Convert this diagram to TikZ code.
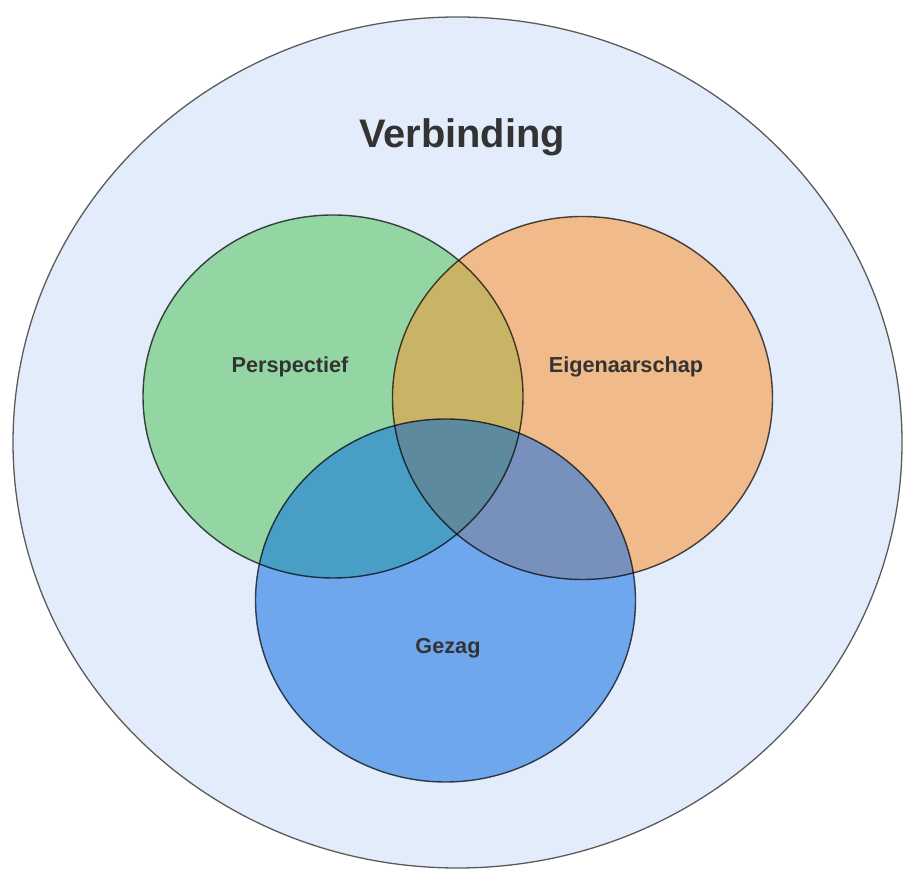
\documentclass[tikz,border=0pt]{standalone}
\usepackage{fontspec}
\setmainfont{Liberation Sans}
\usetikzlibrary{calc}
\definecolor{bg}{HTML}{E3ECFA}
\definecolor{rim}{HTML}{5A5A5A}
\definecolor{txt}{HTML}{333333}
\definecolor{groen}{HTML}{93D5A3}
\definecolor{oranje}{HTML}{F0BA8A}
\definecolor{blauw}{HTML}{6EA7EE}
\definecolor{groenoranje}{HTML}{C9B466}
\definecolor{groenblauw}{HTML}{489EC4}
\definecolor{oranjeblauw}{HTML}{7891BC}
\definecolor{allemaal}{HTML}{5E8AA0}
\newcommand{\lobe}[1]{(#1) ellipse [x radius=190, y radius=181.5]}

\begin{document}
\begin{tikzpicture}[x=0.03cm,y=0.03cm,
	lobelabel/.style={font=\bfseries\fontsize{18.5}{21}\selectfont, text=txt},
	rand/.style={draw=black, draw opacity=0.7, line width=1.2pt}]
					%\draw[help lines] (0,0) grid[step=100] (903,870);
					\useasboundingbox (0,0) rectangle (903,870);
					%CENTRES
					\coordinate (V) at (457.5,427.5);
					\coordinate (P) at (333,473.5);
					\coordinate (E) at (582.5,472);
					\coordinate (G) at (445.5,269.5);
					%OUTER
					\draw[draw=rim, line width=1.1pt, fill=bg] (V) ellipse [x radius=444.5, y radius=425.5];
					\node[font=\bfseries\fontsize{34}{37}\selectfont, text=txt] (verbinding) at (462,733) {Verbinding};
					%LOBES
					\fill[groen] \lobe{P};
					\fill[oranje] \lobe{E};
					\fill[blauw] \lobe{G};
					\begin{scope}
						\clip \lobe{P};
						\fill[groenoranje] \lobe{E};
						\fill[groenblauw] \lobe{G};
						\clip \lobe{E};
						\fill[allemaal] \lobe{G};
					\end{scope}
					\begin{scope}
						\clip \lobe{E};
						\clip \lobe{G};
						\fill[oranjeblauw] \lobe{G};
						\clip \lobe{P};
						\fill[allemaal] \lobe{G};
					\end{scope}
					\draw[rand] \lobe{P};
					\draw[rand] \lobe{E};
					\draw[rand] \lobe{G};
					%LABELS
					\node[lobelabel] (perspectief) at (290,503) {Perspectief};
					\node[lobelabel] (eigenaarschap) at (626,503) {Eigenaarschap};
					\node[lobelabel] (gezag) at (448,222) {Gezag};
	  \end{tikzpicture}
\end{document}
